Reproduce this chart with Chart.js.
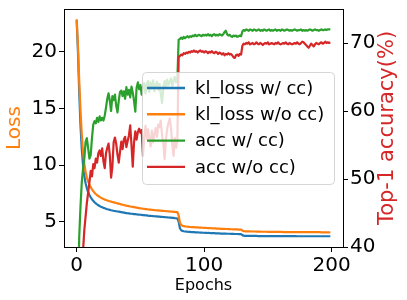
<!DOCTYPE html>
<html>
<head>
<meta charset="utf-8">
<script src="https://cdn.jsdelivr.net/npm/chart.js@4/dist/chart.umd.min.js"></script>
<style>
  html, body { margin: 0; padding: 0; background: #fff; }
  canvas { display: block; }
</style>
</head>
<body>
<canvas id="chart" width="407" height="300"></canvas>
<script>
// epochs 0..199
const EPOCHS = Array.from({length: 200}, (_, i) => i);

const LOSS_TICKS = [5, 10, 15, 20];
const ACC_TICKS = [40, 50, 60, 70];
const EPOCH_TICKS = [0, 100, 200];

const LABELS = ['kl_loss w/ cc)', 'kl_loss w/o cc)', 'acc w/ cc)', 'acc w/o cc)'];

const klLossCC = [
  22.8, 20.0, 16.4, 13.5, 11.4, 10.0, 9.05, 8.4, 7.95, 7.62,
  7.36, 7.15, 6.98, 6.84, 6.72, 6.62, 6.53, 6.45, 6.38, 6.32,
  6.27, 6.22, 6.18, 6.14, 6.1, 6.07, 6.04, 6.01, 5.99, 5.96,
  5.94, 5.92, 5.9, 5.88, 5.86, 5.84, 5.82, 5.8, 5.78, 5.76,
  5.74, 5.73, 5.71, 5.7, 5.69, 5.67, 5.66, 5.65, 5.63, 5.62,
  5.61, 5.6, 5.58, 5.57, 5.56, 5.55, 5.53, 5.52, 5.51, 5.5,
  5.49, 5.48, 5.47, 5.46, 5.45, 5.44, 5.43, 5.42, 5.41, 5.4,
  5.39, 5.38, 5.37, 5.36, 5.35, 5.34, 5.33, 5.31, 5.3, 5.28,
  5.0, 4.42, 4.24, 4.18, 4.15, 4.13, 4.12, 4.11, 4.1, 4.09,
  4.08, 4.07, 4.07, 4.06, 4.05, 4.05, 4.04, 4.03, 4.03, 4.02,
  4.02, 4.01, 4.01, 4.0, 4.0, 3.99, 3.99, 3.98, 3.98, 3.97,
  3.97, 3.96, 3.96, 3.95, 3.95, 3.95, 3.94, 3.94, 3.93, 3.93,
  3.93, 3.92, 3.92, 3.92, 3.91, 3.91, 3.91, 3.9, 3.9, 3.9,
  3.81, 3.76, 3.75, 3.75, 3.75, 3.74, 3.74, 3.74, 3.74, 3.74,
  3.74, 3.74, 3.73, 3.73, 3.73, 3.73, 3.73, 3.73, 3.73, 3.73,
  3.73, 3.73, 3.72, 3.72, 3.72, 3.72, 3.72, 3.72, 3.72, 3.72,
  3.72, 3.72, 3.72, 3.72, 3.72, 3.72, 3.72, 3.72, 3.72, 3.72,
  3.72, 3.72, 3.72, 3.71, 3.71, 3.71, 3.71, 3.71, 3.71, 3.71,
  3.71, 3.71, 3.71, 3.71, 3.71, 3.71, 3.71, 3.71, 3.71, 3.71,
  3.71, 3.71, 3.71, 3.71, 3.71, 3.71, 3.71, 3.71, 3.71, 3.71
];

const klLossNoCC = [
  22.9, 20.6, 17.4, 14.8, 12.7, 11.2, 10.1, 9.4, 8.9, 8.55,
  8.27, 8.05, 7.86, 7.7, 7.56, 7.45, 7.35, 7.27, 7.19, 7.12,
  7.06, 7.0, 6.95, 6.91, 6.87, 6.83, 6.8, 6.77, 6.74, 6.71,
  6.68, 6.65, 6.62, 6.59, 6.56, 6.53, 6.5, 6.47, 6.44, 6.42,
  6.39, 6.37, 6.34, 6.32, 6.3, 6.28, 6.26, 6.24, 6.22, 6.2,
  6.18, 6.16, 6.14, 6.13, 6.11, 6.1, 6.08, 6.07, 6.06, 6.05,
  6.03, 6.02, 6.01, 6.0, 5.99, 5.98, 5.97, 5.96, 5.95, 5.94,
  5.93, 5.92, 5.91, 5.9, 5.89, 5.88, 5.87, 5.86, 5.85, 5.84,
  5.55, 4.9, 4.7, 4.64, 4.6, 4.58, 4.57, 4.55, 4.54, 4.53,
  4.52, 4.51, 4.51, 4.5, 4.49, 4.49, 4.48, 4.47, 4.47, 4.46,
  4.45, 4.45, 4.44, 4.43, 4.43, 4.42, 4.42, 4.41, 4.4, 4.4,
  4.39, 4.39, 4.38, 4.37, 4.37, 4.36, 4.36, 4.35, 4.35, 4.34,
  4.34, 4.33, 4.33, 4.32, 4.32, 4.31, 4.31, 4.3, 4.3, 4.3,
  4.22, 4.16, 4.15, 4.15, 4.14, 4.14, 4.14, 4.13, 4.13, 4.13,
  4.13, 4.12, 4.12, 4.12, 4.12, 4.11, 4.11, 4.11, 4.11, 4.11,
  4.1, 4.1, 4.1, 4.1, 4.1, 4.09, 4.09, 4.09, 4.09, 4.09,
  4.09, 4.09, 4.08, 4.08, 4.08, 4.08, 4.08, 4.08, 4.08, 4.08,
  4.08, 4.07, 4.07, 4.07, 4.07, 4.07, 4.07, 4.07, 4.07, 4.07,
  4.07, 4.07, 4.07, 4.07, 4.07, 4.07, 4.07, 4.07, 4.07, 4.07,
  4.07, 4.07, 4.06, 4.06, 4.06, 4.06, 4.06, 4.06, 4.06, 4.06
];

const accCC = [
  20, 33, 41.5, 46, 49.5, 51.5, 53, 55.5, 56, 54.5,
  53, 53.5, 56, 58, 58.5, 58.2, 59, 58.4, 59.2, 58.6,
  59, 58.6, 59.3, 60.5, 61.8, 62.6, 61.5, 60, 62.2, 61.6,
  62.4, 60.8, 59.8, 61.5, 62.8, 63, 62.2, 62.9, 61.8, 63.5,
  62.4, 63.1, 62, 63.6, 62.7, 61.5, 59.9, 63.4, 64.2, 63.2,
  63.8, 62.4, 63.6, 64.1, 62.6, 63.9, 64.4, 62.8, 64.2, 63.3,
  64.5, 62.9, 63.8, 64.3, 63.1, 64, 62.5, 61.2, 63.6, 64.4,
  63.5, 64.6, 63.8, 64.3, 64.8, 63.7, 64.5, 65, 64.2, 64.7,
  70.5, 70.6, 70.8, 70.6, 70.9, 70.7, 70.9, 71, 70.8, 71,
  70.9, 71.1, 71, 71.2, 71, 71.1, 71.2, 71.1, 71, 71.2,
  71.1, 71.2, 71.1, 71.3, 71.1, 71.2, 71, 71.2, 71.3, 71.1,
  71.2, 71.1, 71.3, 71.2, 71.1, 71.3, 71.6, 71.8, 71.3, 71.1,
  71.2, 71, 70.9, 71.1, 71, 71.1, 70.9, 71, 71.1, 71,
  71.7, 71.9, 71.8, 72, 71.9, 71.8, 72, 71.9, 71.8, 72,
  71.9, 71.8, 71.9, 72, 71.8, 71.9, 71.8, 72, 71.9, 71.8,
  71.9, 72, 71.8, 71.9, 71.8, 71.9, 72, 71.8, 71.9, 71.9,
  71.8, 72, 71.9, 71.8, 71.9, 72, 71.9, 71.8, 71.9, 71.8,
  71.9, 72, 71.9, 71.8, 71.9, 71.9, 72, 71.8, 71.9, 71.8,
  71.9, 71.8, 71.9, 72, 71.9, 71.8, 71.9, 72, 71.9, 71.9,
  71.8, 71.9, 72, 71.9, 71.9, 72, 71.9, 72, 72, 72
];

const accNoCC = [
  15, 22, 28, 33, 37, 39.5, 42.5, 44.5, 46.5, 48,
  49.5, 51.2, 50.4, 52.2, 51.6, 53, 52.4, 53.8, 54.2, 53.4,
  54.5, 52.6, 51.6, 53.8, 54.6, 55.2, 53.5, 50.2, 51.8, 55.4,
  56.1, 55.2, 53.6, 52.4, 54, 55.5, 54.4, 55.8, 56.2, 54.7,
  55.6, 56.4, 57.9, 55, 51.8, 55.4, 57, 55.8, 56.9, 57.4,
  56.8, 57.2, 53.4, 56.2, 57.8, 55.9, 57.3, 56, 54.8, 57.1,
  55.4, 56.6, 57.5, 56.2, 58, 57.6, 58.6, 56.4, 55.2, 52.9,
  55.8, 57.4, 58.2, 58.9, 57.6, 55.1, 53.4, 56, 54.6, 55.8,
  67.9, 68.1, 68.3, 68.2, 68.5, 68.4, 68.6, 68.5, 68.7, 68.6,
  68.8, 68.7, 68.9, 68.7, 68.8, 68.6, 68.8, 68.9, 68.7, 68.8,
  68.6, 68.8, 68.7, 68.5, 68.7, 68.6, 68.8, 68.6, 68.5, 68.7,
  68.6, 68.4, 68.6, 68.5, 68.3, 68.5, 68.2, 68.4, 68.3, 68.5,
  68.3, 68.4, 68.2, 67.9, 67.8, 68.2, 68.3, 68.1, 68.4, 68.3,
  69.6, 69.9, 69.8, 70, 69.9, 70.1, 69.8, 69.9, 70, 69.8,
  69.9, 70.1, 69.9, 69.8, 70, 69.9, 69.7, 69.9, 70, 69.9,
  70.1, 69.8, 69.9, 70, 69.9, 69.8, 70, 69.9, 70.1, 69.9,
  69.8, 69.9, 70, 69.9, 70.1, 69.9, 69.8, 70, 69.9, 69.8,
  69.9, 70, 69.9, 70.1, 69.9, 69.8, 70, 70.2, 70.1, 69.9,
  69.7, 69.5, 69.3, 69.6, 69.9, 69.7, 69.5, 69.8, 70, 69.9,
  69.8, 70, 70.1, 69.9, 70, 70.2, 70, 70.1, 70, 70.1
];

const COLORS = ['#1f77b4', '#ff7f0e', '#2ca02c', '#d62728'];
const FONT = 'DejaVu Sans';

function fixTicks(list){
  return function(scale){ scale.ticks = list.map(v => ({value: v})); };
}

// fixed axis box sizes, no extra label padding so the plot area is 64..343 x 9..247
function yFit(s){
  s.width = 64;
  s.paddingTop = 0;
  s.paddingBottom = 0;
}

// top spine, legend and the two y-axis titles
const extras = {
  id: 'extras',
  afterDatasetsDraw(chart){
    const {ctx, chartArea: a} = chart;
    ctx.save();
    ctx.strokeStyle = '#000';
    ctx.lineWidth = 1;
    ctx.beginPath();
    ctx.moveTo(a.left, a.top + 0.5);
    ctx.lineTo(a.right, a.top + 0.5);
    ctx.stroke();

    // legend box
    const bx = a.left + 78, by = a.top + 63, bw = 192, bh = 112, r = 4;
    ctx.beginPath();
    ctx.roundRect(bx + 0.5, by + 0.5, bw, bh, r);
    ctx.fillStyle = 'rgba(255,255,255,0.8)';
    ctx.fill();
    ctx.strokeStyle = 'rgba(204,204,204,0.8)';
    ctx.stroke();

    ctx.font = `18px "${FONT}"`;
    ctx.textBaseline = 'middle';
    ctx.textAlign = 'left';
    chart.data.datasets.forEach((ds, i) => {
      const y = by + 16 + i * 26.3;
      ctx.strokeStyle = ds.borderColor;
      ctx.lineWidth = 2.4;
      ctx.beginPath();
      ctx.moveTo(bx + 5, y);
      ctx.lineTo(bx + 43, y);
      ctx.stroke();
      ctx.fillStyle = '#000';
      ctx.fillText(ds.label, bx + 53, y + 1);
    });
    ctx.restore();
  },
  afterDraw(chart){
    const {ctx, chartArea: a} = chart;
    const mid = (a.top + a.bottom) / 2;
    ctx.save();
    ctx.textAlign = 'center';
    ctx.textBaseline = 'middle';
    ctx.font = `20px "${FONT}"`;
    ctx.fillStyle = COLORS[1];
    ctx.translate(15, mid);
    ctx.rotate(-Math.PI / 2);
    ctx.fillText('Loss', 0, 0);
    ctx.restore();

    ctx.save();
    ctx.textAlign = 'center';
    ctx.textBaseline = 'middle';
    ctx.font = `21px "${FONT}"`;
    ctx.fillStyle = COLORS[3];
    ctx.translate(a.right + 45, mid);
    ctx.rotate(-Math.PI / 2);
    ctx.fillText('Top-1 accuracy(%)', 0, 0);
    ctx.restore();
  }
};

const axisGrid = { display: true, drawOnChartArea: false, drawTicks: true, tickLength: 5, color: '#000' };
const axisBorder = { display: true, color: '#000', width: 1 };

new Chart(document.getElementById('chart').getContext('2d'), {
  type: 'line',
  data: {
    labels: EPOCHS,
    datasets: [
      { label: LABELS[0], data: klLossCC, borderColor: COLORS[0], yAxisID: 'y', order: 4 },
      { label: LABELS[1], data: klLossNoCC, borderColor: COLORS[1], yAxisID: 'y', order: 3 },
      { label: LABELS[2], data: accCC, borderColor: COLORS[2], yAxisID: 'y1', order: 2 },
      { label: LABELS[3], data: accNoCC, borderColor: COLORS[3], yAxisID: 'y1', order: 1 }
    ]
  },
  options: {
    responsive: false,
    animation: false,
    layout: { padding: { top: 9, left: 0, right: 0, bottom: 0 } },
    elements: {
      line: { borderWidth: 2.2, tension: 0, fill: false, borderJoinStyle: 'round' },
      point: { radius: 0 }
    },
    plugins: { legend: { display: false }, tooltip: { enabled: false } },
    scales: {
      x: {
        type: 'linear',
        min: -9.95,
        max: 208.95,
        afterBuildTicks: fixTicks(EPOCH_TICKS),
        afterFit(s){ s.height = 53; },
        grid: axisGrid,
        border: axisBorder,
        ticks: { color: '#000', font: { family: FONT, size: 20 }, padding: 2, maxRotation: 0 },
        title: { display: true, text: 'Epochs', color: '#000', font: { family: FONT, size: 16 }, padding: { top: 0, bottom: 5 } }
      },
      y: {
        position: 'left',
        min: 2.76,
        max: 23.8,
        afterBuildTicks: fixTicks(LOSS_TICKS),
        afterFit: yFit,
        grid: axisGrid,
        border: axisBorder,
        ticks: { color: '#000', font: { family: FONT, size: 20 }, padding: 2 }
      },
      y1: {
        position: 'right',
        min: 40,
        max: 75,
        afterBuildTicks: fixTicks(ACC_TICKS),
        afterFit: yFit,
        grid: axisGrid,
        border: axisBorder,
        ticks: { color: '#000', font: { family: FONT, size: 20 }, padding: 2 }
      }
    }
  },
  plugins: [extras]
});
</script>
</body>
</html>
